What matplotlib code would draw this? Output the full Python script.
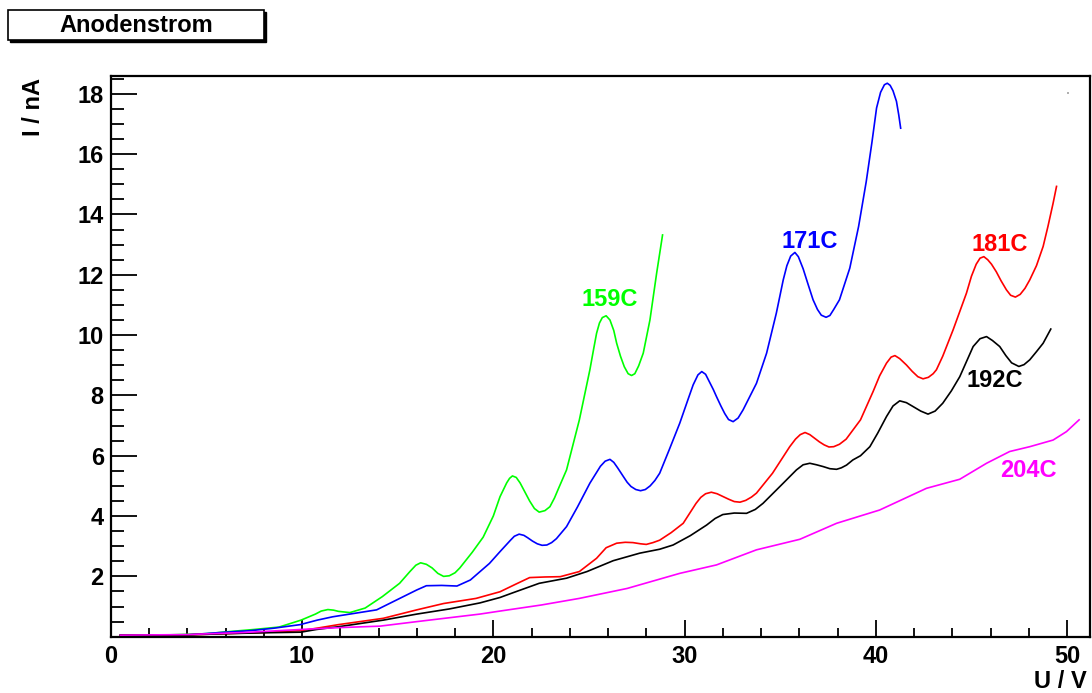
import matplotlib
matplotlib.use("Agg")
import matplotlib.pyplot as plt
from matplotlib.patches import Rectangle
from matplotlib.ticker import MultipleLocator

plt.rcParams['font.family'] = ['Liberation Sans', 'DejaVu Sans']
plt.rcParams['font.weight'] = 'bold'

# ---- data (U / V, I / nA) ----
green_x = [0.5, 3, 5, 6.2, 7.5, 8.8, 9.95, 10.7, 11.0, 11.35, 11.65, 11.9, 12.5, 13.3, 14.2, 15.1, 15.64, 15.95,
           16.2, 16.5, 16.8, 17.1, 17.4, 17.7, 18.0, 18.25, 18.9, 19.47, 20.0, 20.35, 20.7, 20.85, 21.0, 21.2,
           21.4, 21.65, 21.9, 22.15, 22.4, 22.7, 22.96, 23.2, 23.4, 23.83, 24.5, 25.05, 25.25, 25.4, 25.55, 25.7,
           25.9, 26.1, 26.3, 26.45, 26.65, 26.85, 27.05, 27.23, 27.4, 27.6, 27.84, 28.19, 28.54, 28.85]
green_y = [0.05, 0.06, 0.1, 0.17, 0.24, 0.32, 0.55, 0.75, 0.85, 0.9, 0.88, 0.84, 0.8, 0.95, 1.33, 1.77, 2.16, 2.37,
           2.45, 2.4, 2.28, 2.1, 2.0, 2.02, 2.12, 2.28, 2.8, 3.3, 4.0, 4.64, 5.1, 5.25, 5.33, 5.28,
           5.1, 4.8, 4.5, 4.25, 4.13, 4.18, 4.31, 4.6, 4.9, 5.53, 7.19, 8.85, 9.55, 10.06, 10.4, 10.58,
           10.64, 10.5, 10.15, 9.73, 9.3, 8.95, 8.72, 8.66, 8.72, 8.98, 9.4, 10.5, 12.05, 13.32]

blue_x = [0.5, 4, 6, 7.3, 8.5, 9.9, 10.8, 11.6, 12.3, 13.0, 13.9, 14.95, 16.0, 16.5, 17.3, 18.1, 18.8, 19.8,
          20.35, 20.9, 21.1, 21.35, 21.6, 21.8, 22.05, 22.3, 22.55, 22.8, 23.05, 23.3, 23.83, 24.4, 25.05, 25.6,
          25.85, 26.1, 26.3, 26.5, 26.8, 27.0, 27.2, 27.45, 27.7, 27.95, 28.2, 28.45, 28.7, 29.2, 29.75, 30.2,
          30.45, 30.7, 30.9, 31.1, 31.3, 31.5, 31.67, 31.9, 32.1, 32.3, 32.54, 32.8, 33.06, 33.76, 34.29, 34.8,
          35.16, 35.35, 35.55, 35.77, 35.95, 36.2, 36.45, 36.72, 36.95, 37.15, 37.4, 37.6, 37.8, 38.1, 38.64,
          39.1, 39.5, 39.8, 40.04, 40.25, 40.45, 40.6, 40.75, 40.9, 41.08, 41.2, 41.3]
blue_y = [0.05, 0.06, 0.15, 0.2, 0.28, 0.4, 0.55, 0.66, 0.73, 0.8, 0.89, 1.22, 1.55, 1.69, 1.7, 1.68, 1.88, 2.43,
          2.82, 3.2, 3.33, 3.4, 3.36, 3.28, 3.17, 3.08, 3.03, 3.04, 3.12, 3.25, 3.65, 4.3, 5.09, 5.65,
          5.82, 5.88, 5.78, 5.6, 5.31, 5.12, 4.98, 4.88, 4.84, 4.88, 5.0, 5.18, 5.42, 6.2, 7.08, 7.9,
          8.35, 8.68, 8.79, 8.7, 8.45, 8.2, 7.96, 7.65, 7.4, 7.2, 7.13, 7.25, 7.52, 8.4, 9.4, 10.73,
          11.83, 12.3, 12.62, 12.74, 12.6, 12.2, 11.7, 11.17, 10.85, 10.66, 10.59, 10.65, 10.85, 11.17, 12.22,
          13.6, 15.09, 16.4, 17.53, 18.05, 18.3, 18.35, 18.28, 18.1, 17.75, 17.3, 16.86]

red_x = [0.5, 4, 6, 8, 9.94, 10.76, 11.9, 14.25, 16.0, 17.4, 19.1, 20.35, 21.2, 21.9, 22.7, 23.5, 24.5, 25.4,
         25.9, 26.45, 26.9, 27.3, 27.7, 28.0, 28.35, 28.7, 29.3, 29.93, 30.6, 30.85, 31.1, 31.4, 31.7, 32.0,
         32.3, 32.6, 32.9, 33.2, 33.5, 33.76, 34.6, 35.5, 35.8, 36.05, 36.3, 36.55, 36.8, 37.05, 37.3, 37.55,
         37.8, 38.1, 38.45, 39.2, 39.86, 40.2, 40.56, 40.8, 41.0, 41.25, 41.6, 41.9, 42.2, 42.47, 42.75, 43.0,
         43.17, 43.5, 44.04, 44.74, 45.0, 45.25, 45.45, 45.65, 45.85, 46.05, 46.3, 46.55, 46.83, 47.05, 47.3,
         47.55, 47.8, 48.05, 48.4, 48.75, 49.0, 49.27, 49.45]
red_y = [0.05, 0.06, 0.1, 0.14, 0.2, 0.28, 0.4, 0.61, 0.89, 1.1, 1.27, 1.49, 1.75, 1.96, 1.98, 1.99, 2.16, 2.6,
         2.95, 3.1, 3.13, 3.12, 3.08, 3.06, 3.12, 3.2, 3.45, 3.76, 4.42, 4.62, 4.74, 4.79, 4.74, 4.65,
         4.56, 4.48, 4.46, 4.52, 4.63, 4.76, 5.42, 6.3, 6.55, 6.7, 6.77, 6.7, 6.58, 6.46, 6.36, 6.29,
         6.3, 6.38, 6.55, 7.19, 8.13, 8.65, 9.07, 9.27, 9.32, 9.22, 9.01, 8.8, 8.62, 8.55, 8.6, 8.72,
         8.85, 9.3, 10.17, 11.39, 11.95, 12.35, 12.55, 12.6, 12.5, 12.35, 12.1, 11.8, 11.5, 11.32, 11.26,
         11.35, 11.55, 11.83, 12.3, 12.94, 13.6, 14.37, 14.93]

black_x = [0.5, 4, 6, 8, 9.94, 10.76, 11.9, 14.25, 16.0, 17.7, 19.3, 20.35, 21.04, 22.4, 23.83, 24.9, 26.27,
           27.66, 28.7, 29.4, 30.3, 31.15, 31.6, 32.0, 32.6, 33.24, 33.7, 34.1, 35.16, 35.85, 36.2, 36.55, 36.9,
           37.25, 37.6, 37.95, 38.2, 38.47, 38.8, 39.2, 39.69, 40.1, 40.56, 40.9, 41.25, 41.6, 41.95, 42.35,
           42.73, 43.1, 43.5, 43.95, 44.39, 45.09, 45.45, 45.79, 46.1, 46.48, 46.8, 47.1, 47.48, 47.75, 48.05,
           48.4, 48.75, 49.15]
black_y = [0.05, 0.06, 0.1, 0.13, 0.15, 0.24, 0.33, 0.55, 0.75, 0.92, 1.12, 1.3, 1.46, 1.77, 1.94, 2.16, 2.52,
           2.77, 2.9, 3.04, 3.35, 3.7, 3.92, 4.05, 4.1, 4.09, 4.22, 4.42, 5.09, 5.53, 5.7, 5.75, 5.7,
           5.64, 5.57, 5.55, 5.6, 5.69, 5.86, 6.0, 6.3, 6.75, 7.3, 7.65, 7.82, 7.76, 7.63, 7.48,
           7.38, 7.48, 7.74, 8.15, 8.62, 9.62, 9.88, 9.95, 9.82, 9.62, 9.32, 9.08, 8.96, 9.02, 9.18,
           9.45, 9.73, 10.2]

magenta_x = [0.5, 4, 7, 9.94, 11.9, 14.07, 16.0, 19.3, 20.35, 22.5, 24.5, 27.0, 29.75, 31.67, 33.76, 36.03,
             37.95, 40.2, 42.65, 44.39, 45.79, 47.0, 48.05, 49.27, 49.97, 50.63]
magenta_y = [0.05, 0.07, 0.14, 0.24, 0.3, 0.35, 0.5, 0.75, 0.85, 1.05, 1.27, 1.6, 2.1, 2.38, 2.88, 3.23,
             3.76, 4.2, 4.92, 5.22, 5.75, 6.14, 6.3, 6.52, 6.8, 7.19]

stray_x = [50.04]
stray_y = [18.03]

series_labels = ['159C', '171C', '181C', '192C', '204C']
label_pos_x = [26.1, 36.55, 46.5, 46.2, 48.0]
label_pos_y = [11.17, 13.1, 13.0, 8.5, 5.5]
colors = ['#00ff00', '#0000ff', '#ff0000', '#000000', '#ff00ff']

FS = 17

fig = plt.figure(figsize=(10.92, 6.93), dpi=100)
ax = fig.add_axes([110.8 / 1092, 1 - 636.7 / 693, (1090 - 110.8) / 1092, (636.7 - 75.7) / 693])

xs = [green_x, blue_x, red_x, black_x, magenta_x]
ys = [green_y, blue_y, red_y, black_y, magenta_y]
for x, y, c in zip(xs, ys, colors):
    ax.plot(x, y, color=c, lw=1.2, solid_joinstyle='round')
ax.plot(stray_x, stray_y, 's', color='#b0b0b0', ms=1.5, mew=0)

for t, lx, ly, c in zip(series_labels, label_pos_x, label_pos_y, colors):
    ax.text(lx, ly, t, color=c, fontsize=FS, fontweight='bold', ha='center', va='center')

ax.set_xlim(0, 51.2)
ax.set_ylim(0, 18.6)
ax.xaxis.set_major_locator(MultipleLocator(10))
ax.xaxis.set_minor_locator(MultipleLocator(2))
ax.yaxis.set_major_locator(MultipleLocator(2))
ax.yaxis.set_minor_locator(MultipleLocator(0.5))
ax.set_yticks([2, 4, 6, 8, 10, 12, 14, 16, 18])
ax.tick_params(axis='x', which='major', direction='in', length=12.5, width=1.3, pad=6, labelsize=FS)
ax.tick_params(axis='x', which='minor', direction='in', length=6.5, width=1.3)
ax.tick_params(axis='y', which='major', direction='in', length=19, width=1.3, pad=5, labelsize=FS)
ax.tick_params(axis='y', which='minor', direction='in', length=9.5, width=1.3)
for lab in ax.get_xticklabels() + ax.get_yticklabels():
    lab.set_fontweight('bold')
for s in ax.spines.values():
    s.set_linewidth(1.6)

# axis titles
fig.text(33 / 1092, 1 - 78 / 693, 'I / nA', rotation=90, ha='center', va='top', fontsize=FS, fontweight='bold')
fig.text(1087 / 1092, 1 - 688 / 693, 'U / V', ha='right', va='baseline', fontsize=FS, fontweight='bold')

# title box with shadow
x0, y0, x1, y1 = 8 / 1092, 1 - 40 / 693, 264 / 1092, 1 - 10 / 693
fig.patches.append(Rectangle((x0 + 1.5 / 1092, y0 - 1.5 / 693), x1 - x0, y1 - y0, transform=fig.transFigure,
                             facecolor='black', edgecolor='black', lw=1))
fig.patches.append(Rectangle((x0, y0), x1 - x0, y1 - y0, transform=fig.transFigure,
                             facecolor='white', edgecolor='black', lw=1.2))
fig.text((x0 + x1) / 2, (y0 + y1) / 2, 'Anodenstrom', ha='center', va='center', fontsize=FS, fontweight='bold')

fig.savefig('out.png', dpi=100)
